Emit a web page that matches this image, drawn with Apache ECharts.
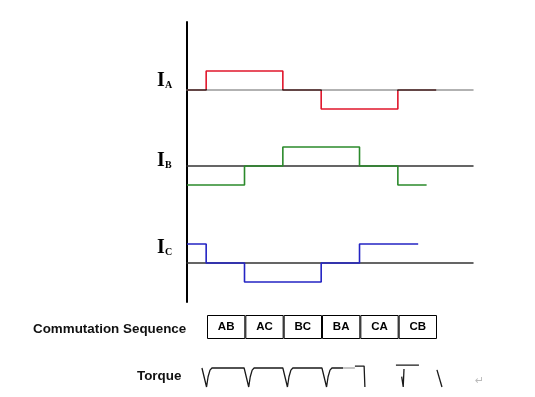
<!DOCTYPE html>
<html>
<head>
<meta charset="utf-8">
<script src="https://cdn.jsdelivr.net/npm/echarts@6/dist/echarts.min.js"></script>
<style>html,body{margin:0;padding:0;background:#fff}#container{width:535px;height:397px}</style>
</head>
<body>
<div id="container"></div>
<script>
// phase currents: [step start, level], one step = 60 electrical degrees
var phaseA = [[0, 0], [0.5, 1], [2.5, 0], [3.5, -1], [5.5, 0], [6.5, 0]];
var phaseB = [[0, -1], [1.5, 0], [2.5, 1], [4.5, 0], [5.5, -1], [6.25, -1]];
var phaseC = [[0, 1], [0.5, 0], [1.5, -1], [3.5, 0], [4.5, 1], [6.03, 1]];
var phaseNames = ['A', 'B', 'C'];
var phaseColors = ['#e0162b', '#2b8a2b', '#2424c4'];

// commutation sequence table
var sequence = ['AB', 'AC', 'BC', 'BA', 'CA', 'CB'];
var cellSize = [1, 1, 1, 1, 1, 1];

// torque trace, in pieces
var torqueMain = [
    [0.39, 1], [0.51, 0], [0.55, 0.54], [0.60, 0.89], [0.65, 1],
    [1.49, 1], [1.61, 0], [1.65, 0.54], [1.70, 0.89], [1.75, 1],
    [2.50, 1], [2.62, 0], [2.66, 0.54], [2.71, 0.89], [2.76, 1],
    [3.52, 1], [3.64, 0], [3.68, 0.54], [3.73, 0.89], [3.78, 1],
    [4.07, 1]
];
var torqueArrow = [[4.07, 1], [4.38, 1]];
var torqueStub = [[4.38, 1.1], [4.62, 1.1], [4.64, 0]];
var torqueBar = [[5.45, 1.15], [6.05, 1.15]];
var torqueTick = [[5.60, 0.55], [5.64, 0], [5.66, 0.95]];
var torqueSlash = [[6.52, 0.9], [6.65, 0]];

var dom = document.getElementById('container');
var myChart = echarts.init(dom);

var X0 = 187, XW = 286, XMAX = 7.46;
var waveTops = [71, 147, 244];
var baseColors = ['#999999', '#333333', '#333333'];

var grids = [
    { left: X0, top: 22, width: 10, height: 280 }  // vertical axis
];
var xAxes = [{ gridIndex: 0, type: 'value', show: false, min: 0, max: 1 }];
var yAxes = [{
    gridIndex: 0, type: 'value', min: 0, max: 1,
    axisLine: { show: true, lineStyle: { color: '#000', width: 2 } },
    axisTick: { show: false }, axisLabel: { show: false }, splitLine: { show: false }
}];
var series = [];
var phases = [phaseA, phaseB, phaseC];

for (var i = 0; i < 3; i++) {
    var g = grids.length;
    grids.push({ left: X0, top: waveTops[i], width: XW, height: 38 });
    xAxes.push({
        gridIndex: g, type: 'value', min: 0, max: XMAX,
        axisLine: { show: true, onZero: true, lineStyle: { color: baseColors[i], width: 1.5 } },
        axisTick: { show: false }, axisLabel: { show: false }, splitLine: { show: false }
    });
    yAxes.push({ gridIndex: g, type: 'value', min: -1, max: 1, show: false });
    var ls = { width: 1.6 };
    if (i > 0) ls.color = phaseColors[i];   // IA colour comes from visualMap
    series.push({
        name: 'I' + phaseNames[i],
        type: 'line', step: 'end',
        xAxisIndex: g, yAxisIndex: g,
        data: phases[i],
        symbol: 'none', animation: false, clip: false,
        lineStyle: ls
    });
}

// table
var gt = grids.length;
grids.push({ left: 207, top: 315, width: 230, height: 24 });
xAxes.push({ gridIndex: gt, type: 'category', data: sequence, show: false });
yAxes.push({ gridIndex: gt, type: 'value', min: 0, max: 1, show: false });
series.push({
    type: 'bar', xAxisIndex: gt, yAxisIndex: gt,
    data: cellSize, barCategoryGap: 0, animation: false,
    itemStyle: { color: '#fff', borderColor: '#000', borderWidth: 1 },
    label: {
        show: true, position: 'inside',
        formatter: function (p) { return p.name; },
        color: '#000', fontSize: 11.5, fontWeight: 'bold', fontFamily: 'Liberation Sans'
    }
});

// torque
var gq = grids.length;
grids.push({ left: X0, top: 368, width: XW, height: 19 });
xAxes.push({ gridIndex: gq, type: 'value', min: 0, max: XMAX, show: false });
yAxes.push({ gridIndex: gq, type: 'value', min: 0, max: 1, show: false });
var pieces = [torqueMain, torqueStub, torqueBar, torqueTick, torqueSlash];
pieces.forEach(function (p) {
    series.push({
        type: 'line', xAxisIndex: gq, yAxisIndex: gq, data: p,
        symbol: 'none', animation: false, clip: false,
        lineStyle: { color: '#1a1a1a', width: 1.3 }
    });
});
series.push({
    type: 'line', xAxisIndex: gq, yAxisIndex: gq, data: torqueArrow,
    symbol: 'none', animation: false, clip: false,
    lineStyle: { color: '#8a8a8a', width: 1 }
});

// labels
var graphics = [];
var labelY = [86, 166, 253];
for (var k = 0; k < 3; k++) {
    graphics.push({
        type: 'text', left: 157, top: labelY[k] - 15,
        style: { text: 'I', font: 'bold 20px "Liberation Serif"', fill: '#000' }
    });
    graphics.push({
        type: 'text', left: 165, top: labelY[k] - 6,
        style: { text: phaseNames[k], font: 'bold 10px "Liberation Serif"', fill: '#000' }
    });
}
graphics.push({
    type: 'text', left: 33, top: 323,
    style: { text: 'Commutation Sequence', font: 'bold 13.4px "Liberation Sans"', fill: '#111' }
});
graphics.push({
    type: 'text', left: 137, top: 370,
    style: { text: 'Torque', font: 'bold 13.4px "Liberation Sans"', fill: '#111' }
});
graphics.push({
    type: 'text', left: 475, top: 376,
    style: { text: '\u21b5', font: '11px "DejaVu Sans"', fill: '#bbb' }
});

option = {
    backgroundColor: '#fff',
    animation: false,
    grid: grids,
    xAxis: xAxes,
    yAxis: yAxes,
    visualMap: {
        show: false, seriesIndex: 0, dimension: 1,
        pieces: [
            { lt: -0.05, color: phaseColors[0] },
            { gte: -0.05, lte: 0.05, color: '#4a2222' },
            { gt: 0.05, color: phaseColors[0] }
        ]
    },
    graphic: graphics,
    series: series
};
myChart.setOption(option);
</script>
</body>
</html>
